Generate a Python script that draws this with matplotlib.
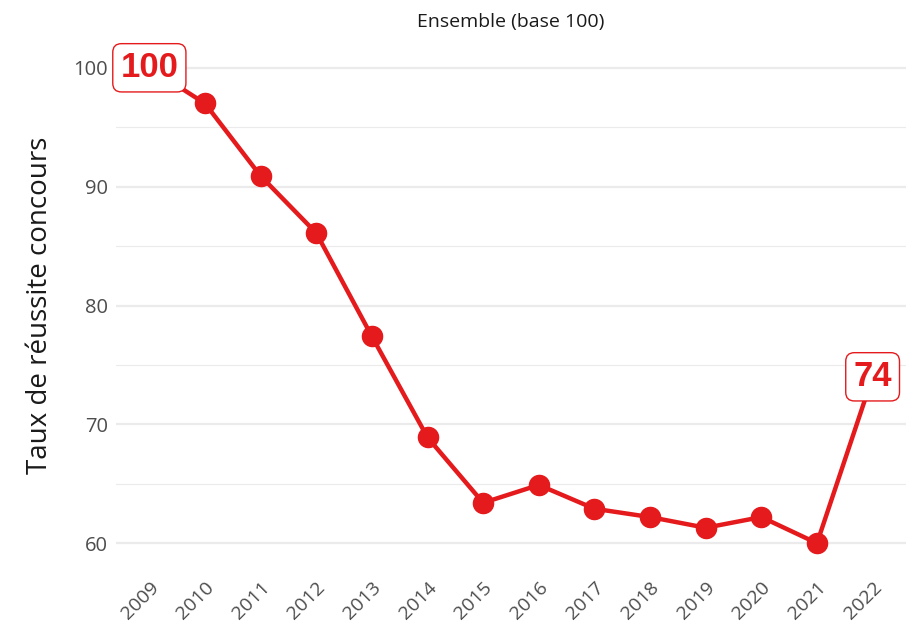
import matplotlib
matplotlib.use("Agg")
import matplotlib.pyplot as plt

# Taux de réussite concours, base 100 en 2009
annees = [2009, 2010, 2011, 2012, 2013, 2014, 2015, 2016, 2017, 2018, 2019, 2020, 2021, 2022]
indice = [100, 97.0, 90.9, 86.1, 77.4, 68.9, 63.4, 64.9, 62.9, 62.2, 61.3, 62.2, 60.0, 74]
y_ticks = [60, 70, 80, 90, 100]

rouge = "#E41A1C"
gris_txt = "#4d4d4d"

plt.rcParams['font.family'] = ['Open Sans', 'DejaVu Sans']

fig = plt.figure(figsize=(9.06, 6.29), dpi=100)
ax = fig.add_axes([0.128, 0.0986, 0.872, 0.8314])

# ligne complète, points seulement pour les années intermédiaires
ax.plot(annees, indice, color=rouge, lw=3.2, zorder=3, solid_capstyle='round')
ax.plot(annees[1:-1], indice[1:-1], 'o', color=rouge, ms=14.5, zorder=4)

# étiquettes première et dernière valeur
for x, v in [(annees[0], indice[0]), (annees[-1], indice[-1])]:
    ax.text(x, v, f"{v:g}", color=rouge, fontsize=25, fontweight='bold',
            family='Liberation Sans', ha='center', va='center', zorder=5,
            bbox=dict(boxstyle='round,pad=0.22,rounding_size=0.25', fc='white',
                      ec=rouge, lw=1.0))

ax.set_xlim(2008.4, 2022.6)
ax.set_ylim(58, 102)
ax.set_yticks(y_ticks)
ax.set_yticks([65, 75, 85, 95], minor=True)
ax.set_xticks(annees)
ax.set_xticklabels([str(a) for a in annees], rotation=45, ha='right',
                   rotation_mode='anchor', fontsize=14, color=gris_txt)
for lab in ax.get_yticklabels():
    lab.set_fontsize(14.5)
    lab.set_color(gris_txt)

ax.grid(axis='y', which='major', color='#ebebeb', lw=1.6)
ax.grid(axis='y', which='minor', color='#ebebeb', lw=0.8)
ax.grid(axis='x', visible=False)
ax.set_axisbelow(True)
ax.tick_params(axis='both', which='both', length=0)
ax.tick_params(axis='x', pad=8)
ax.tick_params(axis='y', pad=6)
for s in ax.spines.values():
    s.set_visible(False)

ax.set_ylabel("Taux de réussite concours", fontsize=20, color='#1a1a1a', labelpad=14)
ax.set_title("Ensemble (base 100)", fontsize=14, color='#1a1a1a', pad=12)

fig.savefig("out.png", dpi=100)
